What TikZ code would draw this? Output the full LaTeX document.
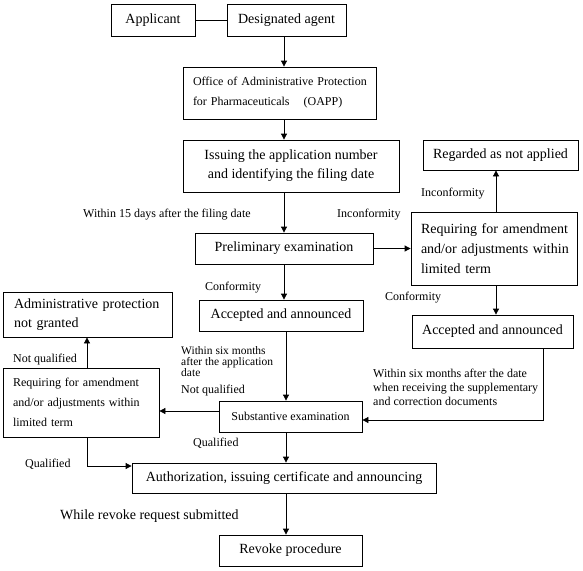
\documentclass[tikz,border=0pt]{standalone}
\usepackage{fontspec}
\setmainfont{Liberation Serif}
\usetikzlibrary{arrows.meta,calc}
\begin{document}
\begin{tikzpicture}[x=1pt,y=-1pt,
  box/.style={draw, line width=0.8pt, inner sep=0pt, rectangle},
  big/.style={font=\fontsize{14}{19}\selectfont},
  small/.style={font=\fontsize{12}{20}\selectfont},
  lab/.style={font=\fontsize{12}{14}\selectfont, inner sep=0pt, anchor=base west, align=left},
  arr/.style={line width=0.8pt, -{Triangle[length=6pt,width=6pt]}},
  ln/.style={line width=0.8pt}]
\fill[white] (0,0) rectangle (583,570);
\useasboundingbox (0,0) rectangle (583,570);

% boxes
\node[box, big, minimum width=84pt, minimum height=32pt] (app) at (153,20) {Applicant};
\node[box, big, minimum width=119pt, minimum height=32pt] (agent) at (286.5,20) {Designated agent};
\node[box, small, minimum width=193pt, minimum height=52pt, text width=173pt, inner xsep=10pt, align=left] (oapp) at (279.5,93)
  {\mbox{Office of Administrative Protection}\\\mbox{for Pharmaceuticals\hspace{14pt}(OAPP)}};
\node[box, big, minimum width=216pt, minimum height=52pt, align=center] (issue) at (291,166)
  {Issuing the application number\\and identifying the filing date};
\node[box, big, minimum width=178pt, minimum height=31pt] (prelim) at (284,248.5) {Preliminary examination};
\node[box, big, minimum width=164pt, minimum height=31pt] (acc1) at (281,315.5) {Accepted and announced};
\node[box, big, minimum width=155pt, minimum height=30pt] (regard) at (500.5,155) {Regarded as not applied};
\node[box, font=\fontsize{14}{20}\selectfont, minimum width=166pt, minimum height=73pt, text width=146pt, inner xsep=10pt, align=left] (req1) at (494,248.5)
  {\mbox{Requiring for amendment}\\\mbox{and/or adjustments within}\\\mbox{limited term}};
\node[box, big, minimum width=161pt, minimum height=33pt] (acc2) at (492.5,331.5) {Accepted and announced};
\node[box, big, minimum width=169pt, minimum height=45pt, text width=147pt, inner xsep=11pt, align=left] (notg) at (87.5,314.5)
  {\mbox{Administrative protection}\\\mbox{not granted}};
\node[box, small, minimum width=156pt, minimum height=69pt, text width=136pt, inner xsep=10pt, align=left] (req2) at (81,402.5)
  {\mbox{Requiring for amendment}\\\mbox{and/or adjustments within}\\\mbox{limited term}};
\node[box, font=\fontsize{12}{14}\selectfont, minimum width=143pt, minimum height=31pt] (subst) at (290.5,416.5) {Substantive examination};
\node[box, big, minimum width=304pt, minimum height=30pt] (auth) at (284,478) {Authorization, issuing certificate and announcing};
\node[box, big, minimum width=143pt, minimum height=31pt] (revoke) at (290.5,550.5) {Revoke procedure};

% helper coordinates
\coordinate (mc) at (284,0);
\coordinate (mc2) at (286,0);
\coordinate (rc) at (496,0);
\coordinate (rx) at (543,0);
\coordinate (lx) at (87,0);
\path (subst.east) ++(0,3.5) coordinate (sIn);
\path (subst.west) ++(0,-5.5) coordinate (sOut);
\path (auth.west) ++(0,-12) coordinate (aIn);

% connectors
\draw[ln] (app.east) -- (agent.west);
\draw[arr] (mc |- agent.south) -- (mc |- oapp.north);
\draw[arr] (mc |- oapp.south) -- (mc |- issue.north);
\draw[arr] (mc |- issue.south) -- (mc |- prelim.north);
\draw[arr] (mc |- prelim.south) -- (mc |- acc1.north);
\draw[arr] (mc2 |- acc1.south) -- (mc2 |- subst.north);
\draw[arr] (mc2 |- subst.south) -- (mc2 |- auth.north);
\draw[arr] (mc2 |- auth.south) -- (mc2 |- revoke.north);
\draw[arr] (prelim.east) -- (prelim.east -| req1.west);
\draw[arr] (rc |- req1.north) -- (rc |- regard.south);
\draw[arr] (rc |- req1.south) -- (rc |- acc2.north);
\draw[arr] (rx |- acc2.south) |- (sIn);
\draw[arr] (sOut) -- (sOut -| req2.east);
\draw[arr] (lx |- req2.north) -- (lx |- notg.south);
\draw[arr] (lx |- req2.south) |- (aIn);

% labels
\node[lab] (l1) at (83,217) {Within 15 days after the filing date};
\node[lab] (l2) at (337,217) {Inconformity};
\node[lab] (l3) at (421,196) {Inconformity};
\node[lab] (l4) at (205,290) {Conformity};
\node[lab] (l5) at (385,300) {Conformity};
\node[lab, font=\fontsize{11.5}{11}\selectfont] (l6) at (181,376) {Within six months\\after the application\\date};
\node[lab] (l7) at (181,393) {Not qualified};
\node[lab] (l8) at (13,362) {Not qualified};
\node[lab] (l9) at (193,446) {Qualified};
\node[lab] (l10) at (25,467) {Qualified};
\node[lab, font=\fontsize{14}{16}\selectfont] (l11) at (60,519) {While revoke request submitted};
\node[lab] (l12) at (373,405) {Within six months after the date\\when receiving the supplementary\\and correction documents};
\end{tikzpicture}
\end{document}
